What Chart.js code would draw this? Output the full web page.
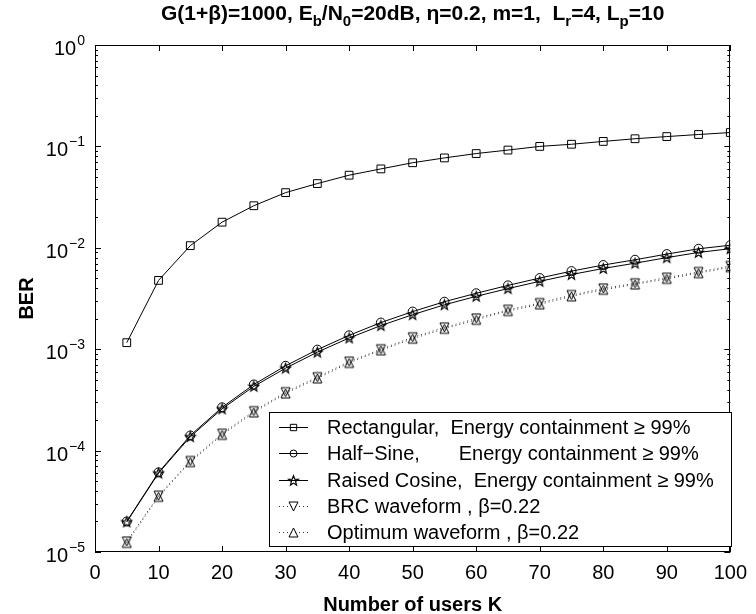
<!DOCTYPE html>
<html>
<head>
<meta charset="utf-8">
<script src="https://cdn.jsdelivr.net/npm/chart.js@4/dist/chart.umd.min.js"></script>
<style>
  html, body { margin: 0; padding: 0; background: #fff; }
  #wrap { width: 756px; height: 614px; }
</style>
</head>
<body>
<div id="wrap"><canvas id="myChart" width="756" height="614"></canvas></div>
<script>
// Number of users K
const users = [5, 10, 15, 20, 25, 30, 35, 40, 45, 50, 55, 60, 65, 70, 75, 80, 85, 90, 95, 100]

// BER per waveform
const rectBER = [0.00116, 0.00477, 0.0105, 0.0179, 0.026, 0.035, 0.043, 0.052, 0.060, 0.069,
                 0.077, 0.085, 0.092, 0.100, 0.105, 0.112, 0.119, 0.125, 0.131, 0.137]
const halfSineBER = [2.0e-5, 6.1e-5, 1.41e-4, 2.67e-4, 4.49e-4, 6.86e-4, 9.9e-4, 1.37e-3, 1.83e-3, 2.35e-3,
                     2.94e-3, 3.56e-3, 4.26e-3, 5.03e-3, 5.89e-3, 6.76e-3, 7.62e-3, 8.67e-3, 9.78e-3, 1.06e-2]
const raisedCosBER = [1.98e-5, 6.0e-5, 1.37e-4, 2.58e-4, 4.3e-4, 6.5e-4, 9.35e-4, 1.29e-3, 1.71e-3, 2.19e-3,
                      2.74e-3, 3.32e-3, 3.96e-3, 4.67e-3, 5.45e-3, 6.25e-3, 7.05e-3, 8.0e-3, 9.0e-3, 9.8e-3]
const brcBER = [1.27e-5, 3.6e-5, 7.9e-5, 1.47e-4, 2.45e-4, 3.77e-4, 5.3e-4, 7.55e-4, 1.0e-3, 1.31e-3,
                1.64e-3, 2.01e-3, 2.45e-3, 2.85e-3, 3.42e-3, 3.97e-3, 4.47e-3, 5.08e-3, 5.78e-3, 6.62e-3]
const optBER = [1.23e-5, 3.5e-5, 7.7e-5, 1.43e-4, 2.38e-4, 3.66e-4, 5.15e-4, 7.33e-4, 9.75e-4, 1.27e-3,
                1.59e-3, 1.95e-3, 2.38e-3, 2.77e-3, 3.32e-3, 3.86e-3, 4.35e-3, 4.94e-3, 5.62e-3, 6.44e-3]

// Axis ticks
const xTicks = [0, 10, 20, 30, 40, 50, 60, 70, 80, 90, 100]
const yExponents = [0, -1, -2, -3, -4, -5]

// Texts
const seriesNames = [
    'Rectangular,  Energy containment \u2265 99%',
    'Half\u2212Sine,       Energy containment \u2265 99%',
    'Raised Cosine,  Energy containment \u2265 99%',
    'BRC waveform , \u03b2=0.22',
    'Optimum waveform , \u03b2=0.22'
]
// title pieces: [text, is subscript]
const titleParts = [
    ['G(1+\u03b2)=1000, E', false], ['b', true], ['/N', false], ['0', true],
    ['=20dB, \u03b7=0.2, m=1,  L', false], ['r', true], ['=4, L', false], ['p', true], ['=10', false]
]

const FONT = '"Liberation Sans", Arial, Helvetica, sans-serif'

// Marker images (MATLAB-like open markers)
function makeMarker(kind) {
    const c = document.createElement('canvas')
    c.width = 13; c.height = 13
    const g = c.getContext('2d')
    g.strokeStyle = '#000'
    g.lineWidth = 1
    g.beginPath()
    if (kind === 'up') {
        g.moveTo(6.5, 2); g.lineTo(2, 11); g.lineTo(11, 11); g.closePath()
    } else if (kind === 'down') {
        g.moveTo(2, 2); g.lineTo(11, 2); g.lineTo(6.5, 11); g.closePath()
    } else if (kind === 'star') {
        g.lineWidth = 1.2
        for (let k = 0; k < 10; k++) {
            const r = k % 2 === 0 ? 5.2 : 2.2
            const ang = -Math.PI / 2 + k * Math.PI / 5
            const px = 6.5 + r * Math.cos(ang), py = 6.9 + r * Math.sin(ang)
            if (k === 0) g.moveTo(px, py); else g.lineTo(px, py)
        }
        g.closePath()
    }
    g.stroke()
    return c
}
const starImg = makeMarker('star')
const downImg = makeMarker('down')
const upImg = makeMarker('up')

const markerStyles = [
    { pointStyle: 'rect', radius: 5.5 },
    { pointStyle: 'circle', radius: 4.5 },
    { pointStyle: starImg, radius: 6 },
    { pointStyle: downImg, radius: 6 },
    { pointStyle: upImg, radius: 6 }
]
const dashes = [[], [], [], [1, 3], [1, 3]]
const values = [rectBER, halfSineBER, raisedCosBER, brcBER, optBER]

const datasets = values.map((v, i) => ({
    label: seriesNames[i],
    data: users.map((u, j) => ({ x: u, y: v[j] })),
    borderColor: i < 3 ? '#000' : '#333',
    borderWidth: 1,
    borderDash: dashes[i],
    pointStyle: markerStyles[i].pointStyle,
    pointRadius: markerStyles[i].radius,
    pointBorderColor: '#000',
    pointBorderWidth: 1,
    pointBackgroundColor: 'rgba(0,0,0,0)',
    tension: 0,
    fill: false
}))

// Box, inward ticks, y labels with superscripts, title, legend
const decorPlugin = {
    id: 'decor',
    afterDraw(chart) {
        const ctx = chart.ctx
        const a = chart.chartArea
        const xs = chart.scales.x, ys = chart.scales.y
        ctx.save()
        ctx.strokeStyle = '#000'
        ctx.lineWidth = 1

        // frame
        ctx.strokeRect(Math.round(a.left) + 0.5, Math.round(a.top) + 0.5,
            Math.round(a.right - a.left) - 1, Math.round(a.bottom - a.top) - 1)

        // x ticks
        ctx.beginPath()
        xTicks.forEach(t => {
            const px = Math.round(xs.getPixelForValue(t)) + 0.5
            ctx.moveTo(px, a.bottom); ctx.lineTo(px, a.bottom - 6)
            ctx.moveTo(px, a.top); ctx.lineTo(px, a.top + 6)
        })
        // y ticks, major and minor
        yExponents.forEach(e => {
            const py = Math.round(ys.getPixelForValue(Math.pow(10, e))) + 0.5
            ctx.moveTo(a.left, py); ctx.lineTo(a.left + 6, py)
            ctx.moveTo(a.right, py); ctx.lineTo(a.right - 6, py)
            if (e < 0) {
                for (let m = 2; m <= 9; m++) {
                    const my = Math.round(ys.getPixelForValue(m * Math.pow(10, e))) + 0.5
                    ctx.moveTo(a.left, my); ctx.lineTo(a.left + 3, my)
                    ctx.moveTo(a.right, my); ctx.lineTo(a.right - 3, my)
                }
            }
        })
        ctx.stroke()

        // y labels 10^e
        ctx.fillStyle = '#000'
        ctx.textBaseline = 'alphabetic'
        yExponents.forEach(e => {
            const py = ys.getPixelForValue(Math.pow(10, e))
            const sup = e === 0 ? '0' : '\u2212' + (-e)
            ctx.font = '14px ' + FONT
            const sw = ctx.measureText(sup).width
            const right = 85
            ctx.textAlign = 'left'
            ctx.fillText(sup, right - sw, py)
            ctx.font = '20px ' + FONT
            ctx.textAlign = 'right'
            ctx.fillText('10', right - sw - 1, py + 10)
        })

        // title
        const big = 'bold 21px ' + FONT, small = 'bold 15px ' + FONT
        let total = 0
        titleParts.forEach(([t, sub]) => { ctx.font = sub ? small : big; total += ctx.measureText(t).width })
        let tx = (a.left + a.right) / 2 - total / 2
        const ty = 20
        ctx.textAlign = 'left'
        titleParts.forEach(([t, sub]) => {
            ctx.font = sub ? small : big
            ctx.fillText(t, tx, sub ? ty + 6 : ty)
            tx += ctx.measureText(t).width
        })

        // legend
        const lx = 269, ly = 412, lw = 462, lh = 134
        ctx.fillStyle = '#fff'
        ctx.fillRect(lx, ly, lw, lh)
        ctx.strokeStyle = '#000'
        ctx.strokeRect(lx + 0.5, ly + 0.5, lw, lh)
        seriesNames.forEach((name, i) => {
            const ry = Math.round(ly + 15 + i * 26.3) + 0.5
            ctx.save()
            ctx.strokeStyle = datasets[i].borderColor
            ctx.setLineDash(dashes[i])
            ctx.beginPath()
            ctx.moveTo(279, ry); ctx.lineTo(308, ry)
            ctx.stroke()
            ctx.restore()
            ctx.strokeStyle = '#000'
            ctx.fillStyle = 'rgba(0,0,0,0)'
            Chart.helpers.drawPoint(ctx, {
                pointStyle: markerStyles[i].pointStyle,
                radius: i < 2 ? markerStyles[i].radius - 1 : markerStyles[i].radius,
                borderWidth: 1, rotation: 0
            }, 293.5, ry)
            ctx.fillStyle = '#000'
            ctx.font = '20px ' + FONT
            ctx.textAlign = 'left'
            ctx.textBaseline = 'middle'
            ctx.fillText(name, 327, ry + 1)
        })
        ctx.restore()
    }
}

const config = {
    type: 'line',
    data: { datasets: datasets },
    options: {
        responsive: false,
        animation: false,
        layout: { padding: { top: 45, right: 17, left: 0, bottom: 0 } },
        plugins: {
            legend: { display: false },
            title: { display: false },
            tooltip: { enabled: false }
        },
        scales: {
            x: {
                type: 'linear',
                min: 0,
                max: 100,
                afterFit: s => { s.height = 62 },
                afterBuildTicks: s => { s.ticks = xTicks.map(v => ({ value: v })) },
                grid: { display: false, drawTicks: false },
                border: { display: false },
                ticks: { color: '#000', padding: 9, font: { size: 20, family: FONT } },
                title: {
                    display: true,
                    text: 'Number of users K',
                    color: '#000',
                    font: { size: 20, weight: 'bold', family: FONT },
                    padding: { top: 0, bottom: -3 }
                }
            },
            y: {
                type: 'logarithmic',
                min: 1e-5,
                max: 1,
                afterFit: s => { s.width = 95 },
                grid: { display: false, drawTicks: false },
                border: { display: false },
                ticks: { display: false },
                title: {
                    display: true,
                    text: 'BER',
                    color: '#000',
                    font: { size: 20, weight: 'bold', family: FONT },
                    padding: { top: 15, bottom: 0 }
                }
            }
        }
    },
    plugins: [decorPlugin]
}

const ctx = document.getElementById('myChart').getContext('2d')
new Chart(ctx, config)
</script>
</body>
</html>
